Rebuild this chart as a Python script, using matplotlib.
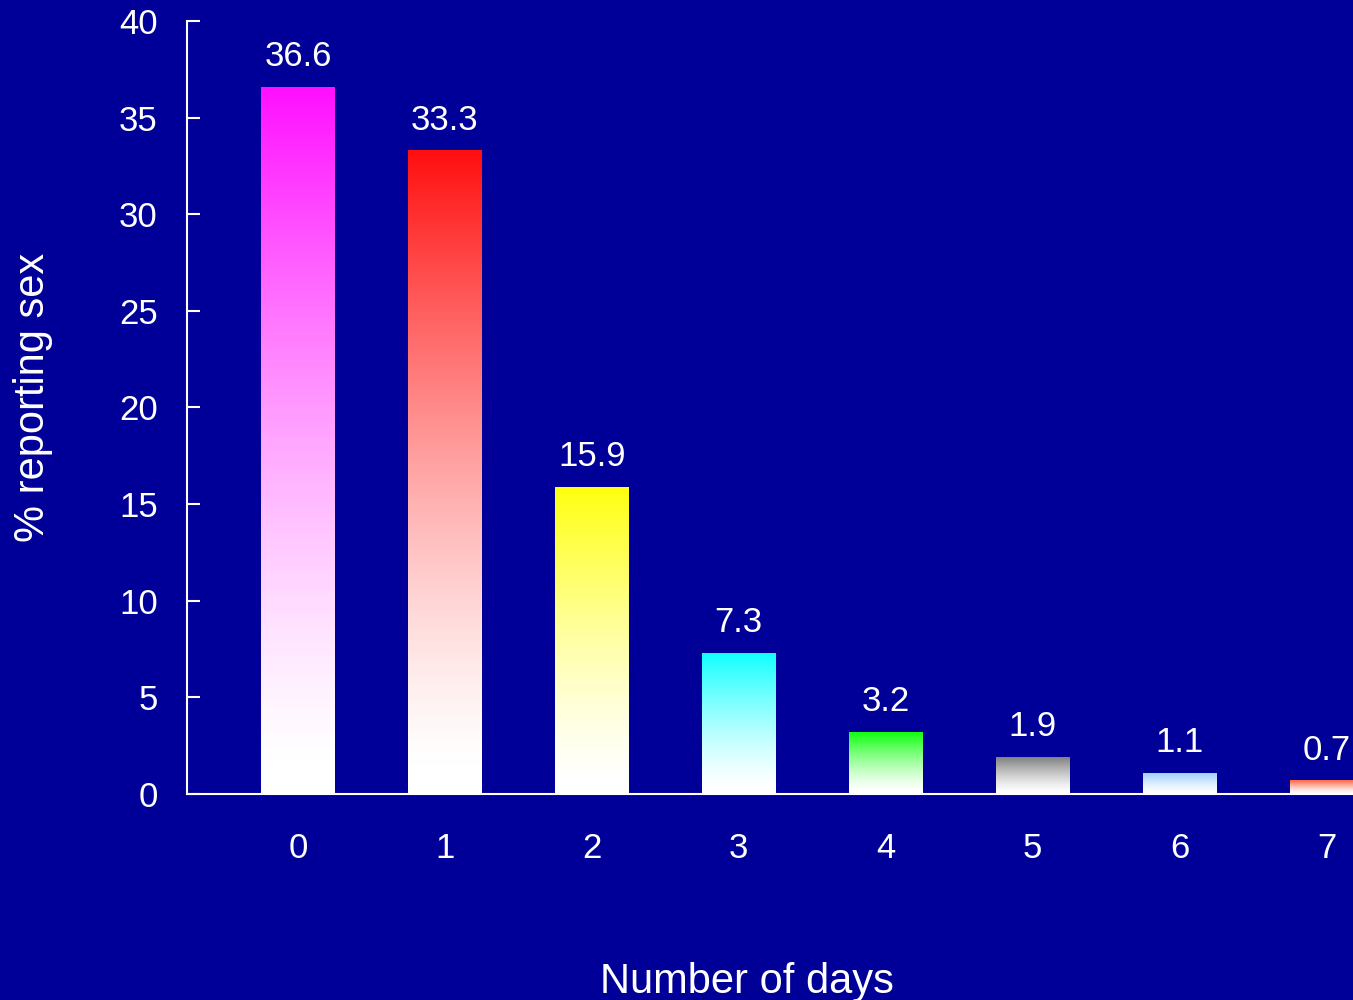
import numpy as np
import matplotlib.pyplot as plt
from matplotlib.colors import LinearSegmentedColormap

# data
days = [0, 1, 2, 3, 4, 5, 6, 7]
pct = [36.6, 33.3, 15.9, 7.3, 3.2, 1.9, 1.1, 0.7]
bar_colors = ['#ff10ff', '#ff1010', '#ffff10', '#10ffff', '#10ff10',
              '#808080', '#99ccff', '#ff6644']
yticks = [0, 5, 10, 15, 20, 25, 30, 35, 40]

bg = '#000099'
plt.rcParams['font.family'] = ['Liberation Sans', 'DejaVu Sans']

fig = plt.figure(figsize=(13.53, 10), dpi=100, facecolor=bg)
ax = fig.add_axes([0.1382, 0.206, 1 - 0.1382, 0.773])
ax.set_facecolor(bg)

width = 0.5
bars = ax.bar(days, pct, width=width, color='none', edgecolor='none',
              linewidth=0, zorder=3)

# vertical gradient in each bar: colour at top, fading to white at bottom
t = np.linspace(0, 1, 256)
grad = (np.clip((t - 0.03) / 0.97, 0, 1) ** 1.35).reshape(-1, 1)
for b, c in zip(bars, bar_colors):
    cmap = LinearSegmentedColormap.from_list('g', ['white', c])
    x0 = b.get_x()
    h = b.get_height()
    im = ax.imshow(grad, cmap=cmap, origin='lower', aspect='auto',
                   vmin=0, vmax=1,
                   extent=[x0, x0 + b.get_width(), 0, h], zorder=2)
    im.set_clip_path(b)

for d, v in zip(days, pct):
    ax.annotate(f'{v:.1f}', (d, v), xytext=(0, 15), textcoords='offset points',
                ha='center', va='baseline', color='white', fontsize=25,
                annotation_clip=False)

ax.set_xlim(-0.755, 7.18)
ax.set_ylim(0, 40)
ax.set_yticks(yticks)
ax.set_xticks(days)

for s in ['top', 'right']:
    ax.spines[s].set_visible(False)
for s in ['left', 'bottom']:
    ax.spines[s].set_color('white')
    ax.spines[s].set_linewidth(1.5)
    ax.spines[s].set_zorder(4)

ax.tick_params(axis='y', direction='in', length=9, width=1.5, color='white',
               labelcolor='white', labelsize=25, pad=21)
ax.tick_params(axis='x', length=0, labelcolor='white', labelsize=25, pad=27)

fig.text(0.552, 0.007, 'Number of days', ha='center', va='baseline',
         color='white', fontsize=30)
fig.text(0.0244, 0.603, '% reporting sex', ha='center', va='center',
         rotation=90, color='white', fontsize=30)

fig.savefig('out.png', dpi=100, facecolor=bg)
